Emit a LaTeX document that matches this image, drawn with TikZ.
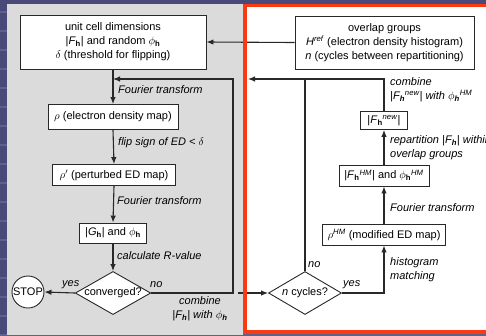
\documentclass[tikz,border=0pt]{standalone}
\usepackage{fontspec}
\setmainfont{Liberation Sans}
\usetikzlibrary{arrows.meta,shapes.geometric}

\definecolor{slidebg}{RGB}{74,74,122}
\definecolor{slidestripe}{RGB}{96,96,142}
\definecolor{panelgray}{RGB}{219,219,219}
\definecolor{framered}{RGB}{252,58,18}
\definecolor{ink}{RGB}{40,40,40}

% bold reciprocal-lattice index h as a subscript
\newcommand{\subh}{\textsubscript{\textbf{h}}}
\newcommand{\Fmag}{|\textit{F}\subh|}
\newcommand{\phih}{$\phi$\subh}

\tikzset{
  stepbox/.style={draw=ink, fill=white, line width=0.9pt, inner sep=0pt,
                  align=center, font=\fontsize{11}{14}\selectfont},
  decision/.style={diamond, draw=ink, fill=white, line width=0.9pt,
                   inner sep=0pt, aspect=1.75, font=\fontsize{11}{14}\selectfont},
  flow/.style={draw=ink, line width=1.1pt},
  arr/.style={flow, -{Latex[length=7pt,width=5.5pt]}},
  lab/.style={font=\fontsize{11}{14}\selectfont\itshape, inner sep=0pt, anchor=west, align=left},
}

\begin{document}
\begin{tikzpicture}[x=1pt,y=-1pt]
\path[use as bounding box, clip] (0,0) rectangle (486,335);

% slide background with faint stripes
\fill[slidebg] (0,0) rectangle (486,335);
\foreach \s in {12,31,...,335}
  \draw[slidestripe, line width=1.2pt] (0,\s) -- (486,\s);

% grey working panel and white highlighted panel
\fill[panelgray] (7,4) rectangle (243,335);
\fill[white] (244,5) rectangle (486,333);

% ---------- left: charge flipping loop ----------
\node[stepbox, minimum width=186, minimum height=54] (init) at (113,42)
  {unit cell dimensions\\ \Fmag{} and random \phih\\ $\delta$ (threshold for flipping)};
\node[stepbox, minimum width=130, minimum height=25] (rho) at (113,117)
  {$\rho$ (electron density map)};
\node[stepbox, minimum width=123, minimum height=21] (rhop) at (114,175)
  {$\rho'$ (perturbed ED map)};
\node[stepbox, minimum width=67, minimum height=20] (G) at (113,233)
  {|\textit{G}\subh| and \phih};
\node[decision, minimum width=75, minimum height=43] (conv) at (113,293)
  {converged?};
\node[circle, draw=ink, fill=white, line width=0.9pt, inner sep=0pt,
      minimum size=32, font=\fontsize{11}{14}\selectfont] (stop) at (28,292) {STOP};

\coordinate (join) at (113,79);
\coordinate (loopB) at (233,293);
\coordinate (loopT) at (233,79);

\draw[arr] (init.south) -- (rho.north);
\node[lab] (l1) at (118,90) {Fourier transform};
\draw[arr] (rho.south) -- (rhop.north);
\node[lab] (l2) at (118,143) {flip sign of ED < $\delta$};
\draw[arr] (rhop.south) -- (G.north);
\node[lab] (l3) at (117,201) {Fourier transform};
\draw[arr] (G.south) -- (conv.north);
\node[lab] (l4) at (117,256) {calculate \textit{R}-value};
\draw[arr] (conv.west) -- (stop.east);
\node[lab] (lyes) at (62,285) {yes};
\draw[arr] (conv.east) -- (loopB) -- (loopT) -- (join);
\node[lab] (lno) at (150,285) {no};
\node[lab, anchor=center, align=center] (lcomb) at (200,309)
  {combine\\ \Fmag{} with \phih};

% ---------- right: histogram matching branch ----------
\node[stepbox, minimum width=179, minimum height=53] (ovl) at (384.5,42.5)
  {overlap groups\\ \textit{H}\textsuperscript{\textit{ref}} (electron density histogram)\\ \textit{n} (cycles between repartitioning)};
\node[stepbox, minimum width=47, minimum height=18] (Fnew) at (384,120.5)
  {|\textit{F}\subh\textsuperscript{\textit{new}}|};
\node[stepbox, minimum width=90, minimum height=21] (FHM) at (384,175.5)
  {|\textit{F}\subh\textsuperscript{\textit{HM}}| and $\phi$\subh\textsuperscript{\textit{HM}}};
\node[stepbox, minimum width=123, minimum height=21] (rhoHM) at (384,234.5)
  {$\rho$\textsuperscript{\textit{HM}} (modified ED map)};
\node[decision, minimum width=73, minimum height=43] (ncyc) at (305,293)
  {\textit{n} cycles?};

\coordinate (inR) at (238,293);
\coordinate (nTop) at (305,79);
\coordinate (yesC) at (384,293);
\coordinate (topR) at (384,79);
\coordinate (topL) at (248,79);

\draw[arr] (ovl.west) -- (init.east);
\draw[arr] (inR) -- (ncyc.west);
\draw[flow] (ncyc.north) -- (nTop);
\node[lab] (rno) at (308,265) {no};
\draw[arr] (ncyc.east) -- (yesC) -- (rhoHM.south);
\node[lab] (ryes) at (343,285) {yes};
\node[lab] (rhist) at (390,269.5) {histogram\\ matching};
\draw[arr] (rhoHM.north) -- (FHM.south);
\node[lab] (rft) at (390,208) {Fourier transform};
\draw[arr] (FHM.north) -- (Fnew.south);
\node[lab] (rrep) at (390,148) {repartition \Fmag{} within\\ overlap groups};
\draw[arr] (Fnew.north) -- (topR) -- (topL);
\node[lab] (rcomb) at (390,90)
  {combine\\ |\textit{F}\subh\textsuperscript{\textit{new}}| with $\phi$\subh\textsuperscript{\textit{HM}}};

% red highlight frame
\draw[framered, line width=3.5pt] (244.8,5.6) -- (244.8,331.8) -- (490,331.8);
\draw[framered, line width=3.5pt] (243,5.6) -- (490,5.6);
\end{tikzpicture}
\end{document}
